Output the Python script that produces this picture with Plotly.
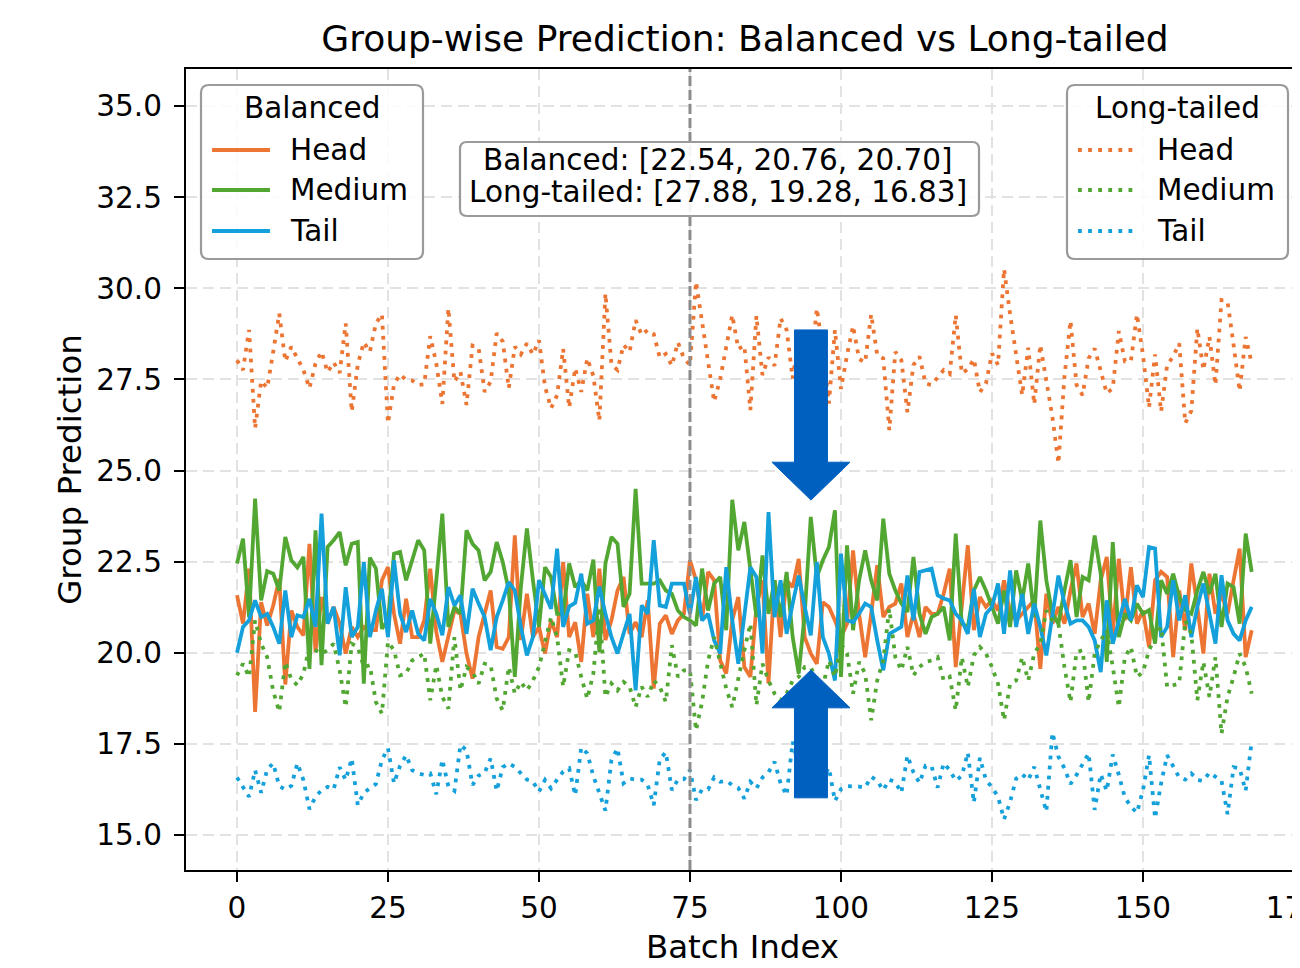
import plotly.graph_objects as go

# ---------------- data ----------------
batch = list(range(169))

bal_head = [21.58, 20.80, 22.31, 18.38, 21.39, 20.75, 21.30, 22.03, 19.13, 21.16,
            20.71, 20.48, 22.99, 20.02, 21.53, 20.80, 21.26, 20.80, 19.98, 20.71,
            20.43, 20.71, 20.62, 20.62, 21.99, 22.35, 21.07, 20.25, 21.48, 20.43,
            20.43, 20.89, 22.31, 20.57, 19.75, 20.43, 21.16, 21.07, 19.98, 19.29,
            20.43, 21.07, 21.71, 20.16, 20.11, 20.43, 23.22, 20.35, 21.62, 20.43,
            20.71, 19.98, 20.89, 20.43, 22.49, 20.43, 20.84, 19.75, 21.62, 20.43,
            22.31, 20.35, 20.89, 21.71, 22.08, 20.52, 20.84, 20.43, 21.44, 19.02,
            20.80, 21.03, 20.52, 20.89, 21.07, 22.54, 21.99, 20.89, 22.22, 21.99,
            19.79, 19.43, 20.89, 21.53, 19.61, 19.34, 21.26, 21.99, 19.16, 21.99,
            20.43, 21.99, 21.80, 22.58, 20.43, 19.98, 19.70, 21.39, 21.26, 20.89,
            20.43, 20.80, 22.81, 21.07, 19.88, 21.07, 22.40, 20.98, 21.26, 21.35,
            21.90, 20.43, 21.07, 20.43, 21.26, 21.07, 21.07, 21.62, 22.31, 19.61,
            21.26, 22.95, 20.62, 21.53, 21.26, 21.44, 21.16, 21.99, 21.07, 20.89,
            21.07, 21.26, 21.44, 19.56, 21.62, 20.80, 21.26, 20.80, 21.71, 22.45,
            20.98, 21.35, 20.52, 21.99, 22.63, 20.52, 22.58, 20.89, 22.35, 20.80,
            21.16, 20.16, 21.99, 22.22, 22.08, 19.88, 21.71, 20.62, 22.45, 21.26,
            19.98, 22.17, 21.07, 21.62, 21.07, 21.99, 22.86, 19.88, 20.62]

bal_medium = [22.45, 23.13, 20.98, 24.23, 21.44, 22.24, 22.17, 21.71, 23.18, 22.54,
              22.34, 22.63, 19.56, 23.36, 19.66, 22.90, 23.09, 23.31, 22.40, 22.99,
              23.04, 19.15, 22.61, 22.31, 20.66, 20.89, 22.72, 22.77, 21.99, 22.54,
              23.09, 22.81, 20.25, 21.99, 23.82, 20.71, 21.26, 21.07, 23.36, 22.99,
              22.81, 21.99, 22.22, 23.04, 22.49, 21.71, 19.34, 21.80, 23.41, 21.99,
              20.71, 22.35, 22.08, 21.07, 21.07, 22.45, 21.80, 21.99, 21.71, 22.56,
              20.02, 22.45, 23.18, 22.99, 21.26, 21.62, 24.50, 21.90, 21.90, 21.90,
              21.99, 21.71, 21.62, 21.16, 20.98, 20.89, 20.75, 22.31, 21.16, 21.90,
              22.08, 20.62, 24.20, 22.81, 23.59, 22.26, 20.98, 22.67, 21.07, 21.99,
              20.98, 22.22, 20.43, 19.43, 21.07, 23.73, 22.08, 22.54, 22.90, 23.91,
              19.34, 22.95, 20.62, 21.99, 22.81, 21.99, 21.44, 23.68, 22.17, 21.71,
              21.35, 21.12, 22.63, 21.07, 20.52, 20.98, 21.07, 21.26, 20.34, 23.27,
              20.80, 20.71, 21.71, 22.08, 21.71, 21.26, 20.80, 21.71, 20.71, 22.26,
              21.44, 22.45, 20.98, 23.63, 21.99, 21.07, 20.80, 21.71, 22.54, 20.98,
              22.08, 21.99, 23.22, 22.17, 19.75, 23.04, 20.43, 21.07, 20.89, 21.35,
              21.07, 21.17, 20.25, 21.99, 21.62, 22.17, 21.53, 21.17, 21.07, 21.71,
              22.22, 21.62, 22.17, 20.71, 21.90, 21.80, 20.80, 23.27, 22.22]

bal_tail = [20.00, 20.71, 20.89, 21.44, 20.98, 21.07, 20.71, 20.25, 21.71, 20.43,
            21.03, 20.98, 21.48, 20.71, 23.82, 20.80, 21.26, 19.93, 21.80, 20.43,
            20.71, 22.49, 20.43, 21.16, 21.76, 20.43, 22.54, 21.07, 20.57, 21.16,
            20.52, 20.34, 21.48, 21.07, 20.48, 21.80, 21.30, 21.58, 20.52, 21.76,
            21.35, 20.98, 20.07, 20.98, 21.44, 21.94, 21.71, 20.71, 19.93, 20.43,
            21.99, 21.62, 21.21, 22.86, 20.71, 21.27, 21.37, 22.17, 20.80, 20.89,
            21.82, 21.07, 20.43, 19.98, 20.52, 21.07, 18.97, 21.30, 21.07, 23.09,
            21.30, 21.26, 21.90, 21.90, 21.90, 21.07, 22.08, 20.89, 21.07, 20.34,
            19.98, 22.35, 20.89, 19.70, 21.07, 22.35, 22.08, 19.98, 23.86, 20.98,
            21.99, 20.52, 21.35, 22.12, 21.26, 20.48, 22.49, 20.43, 19.98, 19.24,
            22.72, 20.89, 20.84, 21.07, 21.35, 21.26, 20.34, 19.52, 20.52, 20.62,
            20.71, 22.12, 20.89, 22.22, 22.26, 22.31, 21.58, 21.49, 21.44, 21.07,
            20.89, 20.52, 21.76, 20.43, 21.07, 21.26, 21.90, 20.52, 22.26, 20.71,
            21.62, 20.52, 21.35, 20.71, 19.93, 21.07, 22.12, 21.35, 20.80, 20.89,
            20.89, 20.71, 20.34, 19.47, 21.44, 20.25, 20.89, 21.48, 20.89, 21.85,
            21.53, 22.90, 22.86, 20.43, 20.71, 21.99, 20.89, 21.58, 20.43, 21.26,
            21.90, 21.07, 20.25, 22.13, 20.89, 20.52, 20.34, 20.89, 21.26]

lt_head = [28.03, 27.76, 28.86, 26.16, 27.46, 27.27, 28.26, 29.31, 28.00, 28.40,
           28.08, 27.76, 27.26, 27.94, 28.26, 27.70, 27.97, 27.68, 29.04, 26.62,
           27.91, 28.52, 28.26, 29.04, 29.29, 26.30, 27.37, 27.64, 27.49, 27.47,
           27.35, 27.37, 28.69, 27.94, 26.83, 29.45, 27.44, 27.71, 26.80, 28.43,
           28.37, 27.16, 27.44, 28.77, 28.54, 27.26, 28.40, 28.19, 28.49, 28.19,
           28.58, 27.30, 26.71, 27.07, 28.34, 26.73, 27.81, 27.16, 28.08, 27.60,
           26.37, 29.86, 27.91, 27.76, 28.45, 28.26, 29.13, 28.72, 28.86, 28.75,
           28.10, 28.20, 27.88, 28.52, 28.08, 27.90, 30.18, 29.09, 27.99, 26.89,
           27.51, 28.46, 29.27, 28.34, 28.43, 26.66, 29.25, 27.62, 28.11, 27.88,
           29.18, 28.86, 27.53, 28.60, 27.30, 27.80, 29.45, 28.30, 26.84, 28.86,
           27.24, 28.17, 28.97, 28.06, 27.97, 29.29, 28.17, 28.08, 26.11, 28.26,
           28.03, 26.60, 27.90, 28.13, 27.39, 27.35, 27.55, 27.76, 27.65, 29.27,
           27.67, 27.78, 28.06, 27.15, 27.39, 28.22, 27.90, 30.53, 29.29, 28.17,
           27.07, 28.37, 26.82, 28.45, 27.44, 26.48, 25.20, 27.58, 29.11, 27.35,
           27.07, 28.08, 28.35, 27.76, 27.12, 27.26, 28.83, 28.00, 28.00, 29.29,
           28.17, 26.73, 28.19, 26.62, 27.90, 28.13, 28.49, 26.30, 26.64, 28.90,
           27.76, 28.67, 27.35, 29.68, 29.63, 28.45, 27.18, 28.67, 27.94]

lt_medium = [19.38, 19.70, 19.34, 20.89, 20.25, 19.88, 18.95, 18.38, 19.75, 19.27,
             19.11, 19.43, 20.16, 20.07, 19.98, 20.07, 20.25, 19.52, 18.51, 20.25,
             20.16, 19.61, 19.66, 18.65, 18.33, 20.30, 20.07, 19.38, 19.43, 19.79,
             19.88, 19.98, 18.70, 19.66, 18.79, 18.47, 20.43, 18.97, 19.61, 19.47,
             19.15, 19.70, 19.66, 18.74, 18.42, 19.61, 18.88, 19.20, 18.97, 19.24,
             19.61, 20.34, 20.98, 20.43, 19.07, 20.07, 20.02, 19.34, 18.74, 19.43,
             21.26, 18.79, 19.16, 18.97, 19.20, 19.07, 18.51, 19.07, 18.79, 19.24,
             19.07, 18.65, 20.21, 19.34, 19.52, 19.52, 17.87, 18.65, 19.79, 20.43,
             19.75, 19.02, 18.51, 19.34, 20.07, 20.80, 18.56, 19.70, 19.24, 18.88,
             18.70, 18.88, 19.24, 19.34, 19.61, 19.60, 19.24, 19.07, 19.79, 19.34,
             20.25, 19.98, 18.88, 19.75, 19.43, 18.15, 19.24, 19.79, 21.21, 19.88,
             19.52, 20.16, 19.38, 19.61, 19.75, 19.79, 19.88, 19.24, 19.34, 18.42,
             19.88, 19.06, 19.93, 20.16, 19.98, 19.61, 19.15, 18.15, 19.15, 19.24,
             19.88, 19.24, 19.98, 20.25, 21.16, 20.89, 20.80, 19.61, 18.65, 20.02,
             20.07, 18.65, 19.98, 20.34, 20.61, 19.61, 18.51, 19.88, 20.16, 19.34,
             19.47, 20.07, 20.43, 20.71, 19.06, 19.11, 19.16, 20.89, 20.52, 18.70,
             19.75, 18.79, 19.88, 17.78, 18.79, 19.34, 19.98, 19.61, 18.88]

lt_tail = [16.58, 16.30, 16.05, 16.78, 16.16, 16.80, 16.97, 16.34, 16.25, 16.35,
           16.97, 16.51, 15.71, 16.05, 16.23, 16.32, 16.25, 16.86, 16.51, 17.10,
           15.82, 16.16, 16.28, 16.40, 17.06, 17.38, 16.42, 16.90, 17.19, 16.78,
           16.69, 16.65, 16.69, 16.12, 17.07, 16.33, 16.21, 17.47, 17.33, 16.37,
           16.63, 16.71, 17.10, 16.21, 16.86, 16.97, 16.87, 16.69, 16.52, 16.47,
           16.19, 16.51, 16.28, 16.52, 16.74, 16.83, 16.09, 17.40, 17.24, 16.62,
           16.16, 15.67, 17.06, 17.38, 16.42, 16.55, 16.52, 16.52, 16.37, 15.82,
           17.08, 17.27, 16.23, 16.52, 16.53, 16.78, 15.96, 16.25, 16.25, 16.58,
           16.46, 16.49, 16.37, 16.29, 16.00, 16.46, 16.28, 16.58, 16.72, 17.01,
           16.42, 16.09, 17.56, 16.90, 16.40, 16.70, 16.30, 16.60, 16.85, 15.93,
           16.26, 16.34, 16.34, 16.33, 16.30, 16.60, 16.49, 16.23, 16.52, 16.45,
           16.16, 17.18, 16.72, 16.43, 16.90, 16.89, 16.30, 16.97, 16.78, 16.49,
           16.62, 17.26, 15.89, 17.12, 16.51, 16.31, 16.05, 15.43, 15.91, 16.55,
           16.67, 16.51, 16.87, 16.23, 15.64, 17.81, 17.15, 16.83, 16.40, 16.65,
           16.97, 17.24, 15.69, 16.67, 16.21, 17.21, 16.65, 16.03, 15.78, 15.61,
           16.23, 17.19, 15.46, 16.42, 17.19, 16.87, 16.58, 16.52, 16.69, 16.51,
           16.49, 16.71, 16.60, 16.49, 15.57, 16.86, 16.83, 16.21, 17.58]

group_names = ["Head", "Medium", "Tail"]
x_ticks = [0, 25, 50, 75, 100, 125, 150, 175]
y_ticks = [15.0, 17.5, 20.0, 22.5, 25.0, 27.5, 30.0, 32.5, 35.0]
split_batch = 75
stats_lines = ["Balanced: [22.54, 20.76, 20.70]",
               "Long-tailed: [27.88, 19.28, 16.83]"]

# ---------------- style ----------------
OFF = 8                                  # page body margin of the html page
W, H = 1300 - OFF, 968 - OFF
PL, PR, PT, PB = 186, 1299, 69, 870     # plot area in screen pixels
FONT = "DejaVu Sans"
colors = ["#EC7533", "#52A733", "#14A0DA"]
LW = 3.8
DOT = "3.8px,6.3px"
ARROW_C = "#0060C0"


def px2paper(px, py):
    return (px - PL) / (PR - PL), (PB - py) / (PB - PT)


def rrect_path(x0, y0, x1, y1, r):
    pts = [("M", [(x0 + r, y0)]), ("L", [(x1 - r, y0)]), ("Q", [(x1, y0), (x1, y0 + r)]),
           ("L", [(x1, y1 - r)]), ("Q", [(x1, y1), (x1 - r, y1)]),
           ("L", [(x0 + r, y1)]), ("Q", [(x0, y1), (x0, y1 - r)]),
           ("L", [(x0, y0 + r)]), ("Q", [(x0, y0), (x0 + r, y0)])]
    s = ""
    for cmd, ps in pts:
        s += cmd + " " + " ".join("%.5f,%.5f" % px2paper(a, b) for a, b in ps) + " "
    return s + "Z"


fig = go.Figure()
for name, vals, c in zip(group_names, [bal_head, bal_medium, bal_tail], colors):
    fig.add_trace(go.Scatter(x=batch, y=vals, mode="lines", name="Balanced " + name,
                             line=dict(color=c, width=LW), showlegend=False))
for name, vals, c in zip(group_names, [lt_head, lt_medium, lt_tail], colors):
    fig.add_trace(go.Scatter(x=batch, y=vals, mode="lines", name="Long-tailed " + name,
                             line=dict(color=c, width=LW, dash=DOT), showlegend=False))

shapes = []
annotations = []

# vertical split line
shapes.append(dict(type="line", xref="x", yref="paper", x0=split_batch, x1=split_batch,
                   y0=0, y1=1, line=dict(color="#8c8c8c", width=3, dash="10px,4px"),
                   layer="above"))

# arrows (data coordinates)
ax_c, shaft_hw, head_hw = 95.03, 2.73, 6.46
down = [(ax_c - shaft_hw, 28.86), (ax_c + shaft_hw, 28.86), (ax_c + shaft_hw, 25.23),
        (ax_c + head_hw, 25.23), (ax_c, 24.19), (ax_c - head_hw, 25.23), (ax_c - shaft_hw, 25.23)]
up = [(ax_c - shaft_hw, 16.02), (ax_c + shaft_hw, 16.02), (ax_c + shaft_hw, 18.49),
      (ax_c + head_hw, 18.49), (ax_c, 19.53), (ax_c - head_hw, 18.49), (ax_c - shaft_hw, 18.49)]
for poly in (down, up):
    p = "M " + " L ".join("%.3f,%.3f" % q for q in poly) + " Z"
    shapes.append(dict(type="path", xref="x", yref="y", path=p, fillcolor=ARROW_C,
                       line=dict(color=ARROW_C, width=1), layer="above"))

# stats box
shapes.append(dict(type="path", xref="paper", yref="paper", path=rrect_path(460, 142, 979, 216, 7),
                   fillcolor="rgba(255,255,255,0.9)", line=dict(color="#9a9a9a", width=2.2),
                   layer="above"))
for txt, py in zip(stats_lines, [160, 192]):
    xp, yp = px2paper(718, py)
    annotations.append(dict(text=txt, x=xp, y=yp, xref="paper", yref="paper", showarrow=False,
                            xanchor="center", yanchor="middle",
                            font=dict(family=FONT, size=29.5, color="black")))

# legends (drawn manually to mimic the original rounded frames)
legend_specs = [
    ("Balanced", (201, 85, 423, 259), 212, 270, 288, None),
    ("Long-tailed", (1067, 85, 1288, 259), 1078, 1134, 1155, DOT),
]
for title, (bx0, by0, bx1, by1), lx0, lx1, tx, dash in legend_specs:
    shapes.append(dict(type="path", xref="paper", yref="paper", path=rrect_path(bx0, by0, bx1, by1, 8),
                       fillcolor="rgba(255,255,255,0.85)", line=dict(color="#9a9a9a", width=2.2),
                       layer="above"))
    xp, yp = px2paper((bx0 + bx1) / 2, 108)
    annotations.append(dict(text=title, x=xp, y=yp, xref="paper", yref="paper", showarrow=False,
                            xanchor="center", yanchor="middle",
                            font=dict(family=FONT, size=29.5, color="black")))
    for name, c, py in zip(group_names, colors, [150, 190, 231]):
        a0, b0 = px2paper(lx0, py)
        a1, _ = px2paper(lx1, py)
        ln = dict(color=c, width=LW)
        if dash:
            ln["dash"] = dash
        shapes.append(dict(type="line", xref="paper", yref="paper", x0=a0, x1=a1, y0=b0, y1=b0,
                           line=ln, layer="above"))
        t0, _ = px2paper(tx, py)
        annotations.append(dict(text=name, x=t0, y=b0, xref="paper", yref="paper", showarrow=False,
                                xanchor="left", yanchor="middle",
                                font=dict(family=FONT, size=29.5, color="black")))

axis_common = dict(showline=True, linecolor="black", linewidth=2.2, ticks="outside", ticklen=10,
                   tickwidth=2.2, tickcolor="black", showgrid=True, gridcolor="#e2e2e2",
                   gridwidth=2, griddash="11px,6px", zeroline=False, ticklabeloverflow="allow",
                   tickfont=dict(family=FONT, size=29.5, color="black"))

fig.update_layout(
    width=W, height=H,
    margin=dict(l=PL - OFF, r=W - (PR - OFF), t=PT - OFF, b=H - (PB - OFF), autoexpand=False),
    paper_bgcolor="white", plot_bgcolor="white",
    showlegend=False,
    title=dict(text="Group-wise Prediction: Balanced vs Long-tailed", x=(745 - PL) / (PR - PL),
               xref="paper", xanchor="center", y=1 - (38 - OFF) / H, yref="container",
               yanchor="middle", font=dict(family=FONT, size=36, color="black")),
    xaxis=dict(range=[-8.44, 175.83], tickvals=x_ticks, mirror=True,
               title=dict(text="Batch Index", font=dict(family=FONT, size=32.5, color="black"), standoff=12),
               **axis_common),
    yaxis=dict(range=[14.04, 36.02], tickvals=y_ticks, tickformat=".1f", mirror=False,
               title=dict(text="Group Prediction", font=dict(family=FONT, size=32.5, color="black"), standoff=5),
               ticklabelstandoff=6, **axis_common),
    shapes=shapes,
    annotations=annotations,
)

fig.write_html("out.html")
